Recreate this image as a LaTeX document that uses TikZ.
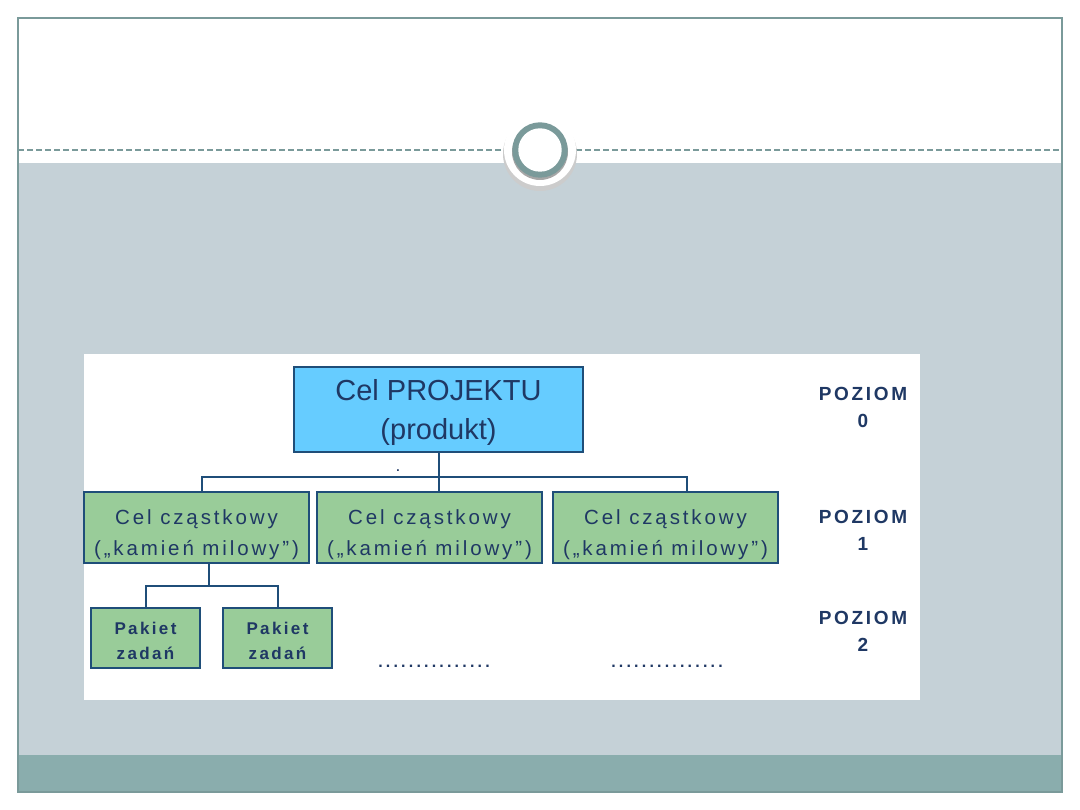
\documentclass[tikz,border=0pt]{standalone}
\usepackage{fontspec}
\setmainfont{Liberation Sans}
\newfontfamily\widefont[LetterSpace=14]{Liberation Sans}
\newfontfamily\dotfont[LetterSpace=20]{Liberation Sans}
\usetikzlibrary{positioning}
\definecolor{slideframe}{HTML}{7A9A9A}
\definecolor{slidegray}{HTML}{C5D1D7}
\definecolor{slideband}{HTML}{8AADAD}
\definecolor{boxline}{HTML}{1F4E79}
\definecolor{textnavy}{HTML}{1F3864}
\definecolor{goalblue}{HTML}{66CCFF}
\definecolor{subgreen}{HTML}{99CC99}

\begin{document}
\begin{tikzpicture}[
    x=1pt, y=-1pt,
    goal/.style={draw=boxline, line width=2.5pt, fill=goalblue, text=textnavy,
      align=center, inner sep=0pt, minimum width=289pt, minimum height=85pt,
      text depth=-2pt, font=\fontsize{29}{39}\selectfont},
    subgoal/.style={draw=boxline, line width=2.5pt, fill=subgreen, text=textnavy,
      align=center, inner sep=0pt, minimum width=225pt, minimum height=71pt,
      text height=61pt, font=\widefont\fontsize{20.5}{31}\selectfont},
    pack/.style={draw=boxline, line width=2.5pt, fill=subgreen, text=textnavy,
      align=center, inner sep=0pt, minimum width=109pt, minimum height=60pt,
      text height=44pt, font=\widefont\bfseries\fontsize{17}{25}\selectfont},
    level/.style={text=textnavy, align=center,
      font=\widefont\bfseries\fontsize{19}{27}\selectfont},
    dots/.style={text=textnavy, font=\dotfont\bfseries\fontsize{16}{16}\selectfont},
    tree/.style={draw=boxline, line width=2pt},
  ]
    % slide
    \fill[white] (0,0) rectangle (1080,810);
    \useasboundingbox (0,0) rectangle (1080,810);
    \fill[slidegray] (18,163) rectangle (1062,755);
    \fill[slideband] (18,755) rectangle (1062,792);
    \draw[slideframe, line width=2pt] (18,18) rectangle (1062,792);
    \draw[slideframe, line width=1.2pt, dash pattern=on 6pt off 3pt] (18,150) -- (1062,150);
    % badge
    \fill[black!20] (540,154) circle (37);
    \fill[white] (540,150) circle (36);
    \fill[black!35] (540,152) circle (28);
    \fill[slideframe] (540,150) circle (27.7);
    \fill[white] (540,150) circle (21.7);
    % panel
    \fill[white] (84,354) rectangle (920,700);
    % boxes
    \node[goal] (top) at (438.5,409.5) {Cel PROJEKTU\\(produkt)};
    \node[subgoal] (subA) at (196.5,527.5) {Cel cząstkowy\\(„kamień milowy”)};
    \node[subgoal] (subB) at (429.5,527.5) {Cel cząstkowy\\(„kamień milowy”)};
    \node[subgoal] (subC) at (665.5,527.5) {Cel cząstkowy\\(„kamień milowy”)};
    \node[pack] (packA) at (145.5,638) {Pakiet\\zadań};
    \node[pack] (packB) at (277.5,638) {Pakiet\\zadań};
    % tree lines
    \draw[tree] (top.south) -- ++(0,24) -| ([xshift=5pt]subA.north);
    \draw[tree] (top.south) -- ++(0,24) -| ([xshift=21pt]subC.north);
    \draw[tree] (top.south) -- (subB.north -| top.south);
    \draw[tree] ([xshift=12pt]subA.south) -- ++(0,22) -| (packA.north);
    \draw[tree] ([xshift=12pt]subA.south) -- ++(0,22) -| (packB.north);
    % dots and levels
    \node[text=textnavy, font=\bfseries\fontsize{12}{12}\selectfont] (mark) at (398,471) {.};
    \node[dots] (moreA) at (434,666) {...............};
    \node[dots] (moreB) at (667,666) {...............};
    \node[level] (lev0) at (863,407) {POZIOM\\0};
    \node[level] (lev1) at (863,530) {POZIOM\\1};
    \node[level] (lev2) at (863,631) {POZIOM\\2};
\end{tikzpicture}
\end{document}
